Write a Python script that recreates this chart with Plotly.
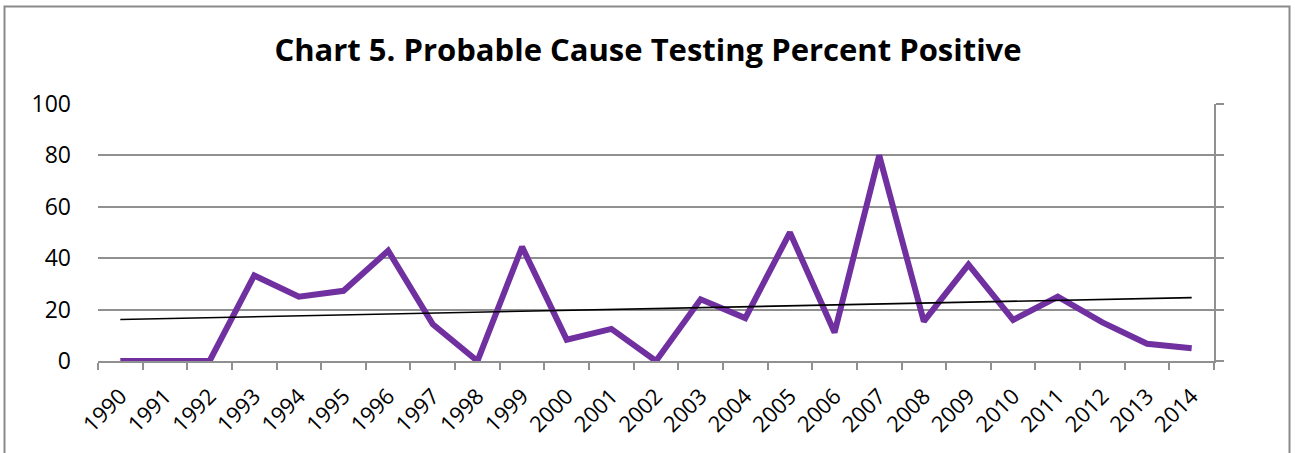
import numpy as np
import plotly.graph_objects as go

years = [str(y) for y in range(1990, 2015)]
percent_positive = [0, 0, 0, 33.3, 25, 27.3, 42.9, 14.3, 0, 44.4, 8.3, 12.5, 0,
                    24, 16.7, 50, 11.1, 80, 15.4, 37.5, 16, 25, 15, 6.7, 5]
y_ticks = [0, 20, 40, 60, 80, 100]

# Linear trendline (least squares fit, as in the original spreadsheet)
idx = np.arange(len(percent_positive))
slope, intercept = np.polyfit(idx, percent_positive, 1)
trend = (slope * idx + intercept).tolist()

W, H = 1295, 453
L, R, T, B = 98, 81, 104, 92
pw, ph = W - L - R, H - T - B

def px(x):
    return (x - L) / pw

def py(y):
    return (H - B - y) / ph

fig = go.Figure()
fig.add_trace(go.Scatter(x=years, y=percent_positive, mode="lines",
                         line=dict(color="#7030A0", width=6),
                         showlegend=False, hoverinfo="x+y"))
fig.add_trace(go.Scatter(x=years, y=trend, mode="lines",
                         line=dict(color="black", width=1.6),
                         showlegend=False, hoverinfo="skip"))
# invisible trace to activate right axis
fig.add_trace(go.Scatter(x=years[:1], y=[0], yaxis="y2", mode="lines",
                         line=dict(width=0), showlegend=False, hoverinfo="skip"))

grid_col = "#909090"
font_family = "Open Sans, Liberation Sans, sans-serif"

fig.update_layout(
    width=W, height=H,
    margin=dict(l=L, r=R, t=T, b=B),
    paper_bgcolor="white", plot_bgcolor="white",
    title=dict(text="<b>Chart 5. Probable Cause Testing Percent Positive</b>",
               x=648 / W, xanchor="center",
               y=1 - 50 / H, yanchor="middle",
               yref="container", xref="container",
               font=dict(family=font_family, size=31, color="black")),
    xaxis=dict(type="category", tickangle=-45, showgrid=False,
               showline=True, linecolor=grid_col, linewidth=1.5,
               ticks="outside", tickson="boundaries", ticklen=7,
               tickcolor=grid_col, tickwidth=1.5, ticklabelstandoff=12,
               tickfont=dict(family=font_family, size=22, color="black"),
               range=[-0.5, len(years) - 0.5], fixedrange=True),
    yaxis=dict(range=[0, 100], tickvals=y_ticks, showgrid=True,
               gridcolor=grid_col, gridwidth=1.5, zeroline=False,
               showline=False, ticks="", ticklabelstandoff=26,
               tickfont=dict(family=font_family, size=23, color="black"),
               fixedrange=True),
    yaxis2=dict(overlaying="y", side="right", range=[0, 100], tickvals=y_ticks,
                showgrid=False, zeroline=False, showline=True,
                linecolor=grid_col, linewidth=1.5, ticks="outside",
                ticklen=8, tickcolor=grid_col, tickwidth=1.5,
                showticklabels=False, fixedrange=True),
    shapes=[dict(type="rect", xref="paper", yref="paper",
                 x0=px(4.5), x1=px(1289.5), y0=py(470), y1=py(6.5),
                 line=dict(color="#8a8a8a", width=2), fillcolor="rgba(0,0,0,0)",
                 layer="below")],
)

fig.write_html(
    "out.html",
    config={"displayModeBar": False},
    post_script="document.body.style.margin='0';document.body.style.overflow='hidden';",
)
